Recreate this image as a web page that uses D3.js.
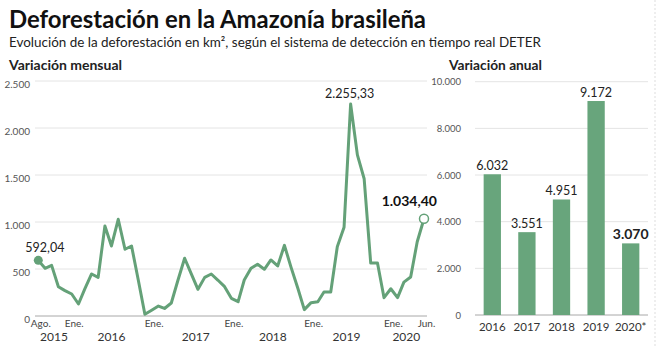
<!DOCTYPE html>
<html>
<head>
<meta charset="utf-8">
<script src="https://cdn.jsdelivr.net/npm/d3@7"></script>
<style>
  body { margin: 0; background: #fff; }
  svg { display: block; font-family: Lato, "Open Sans", sans-serif; }
</style>
</head>
<body>
<svg id="chart" width="660" height="348"></svg>
<script>
// monthly deforestation (km2), Aug 2015 .. Jun 2020
const firstMonth = "2015-08-01";
const monthlyValues = [
  592.04, 507, 539, 312, 270,
  234, 128, 288, 447, 411, 957, 745, 1029, 710, 745, 380, 18,
  62, 106, 80, 138, 378, 614, 450, 284, 411, 447, 380, 312,
  188, 152, 383, 507, 550, 497, 596, 532, 752, 520, 297, 68,
  142, 152, 255, 255, 737, 945, 2255.33, 1714, 1460, 563, 563, 195,
  290, 195, 360, 415, 790, 1034.40
];
const monthTickDates = ["2015-08-01", "2016-01-01", "2017-01-01", "2018-01-01", "2019-01-01", "2020-01-01", "2020-06-01"];
const monthTickLabels = ["Ago.", "Ene.", "Ene.", "Ene.", "Ene.", "Ene.", "Jun."];
const yearLabels = ["2015", "2016", "2017", "2018", "2019", "2020"];
const yearLabelDates = ["2015-10-12", "2016-07-01", "2017-07-22", "2018-07-10", "2019-06-12", "2020-03-12"];
const monthlyTicks = [0, 500, 1000, 1500, 2000, 2500];

// yearly totals
const years = ["2016", "2017", "2018", "2019", "2020*"];
const annualValues = [6032, 3551, 4951, 9172, 3070];
const annualTicks = [0, 2000, 4000, 6000, 8000, 10000];

const green = "#68a57c";
const lineGreen = "#64a178";
const grid = "#e4e4e4";

const es = d3.formatLocale({decimal: ",", thousands: ".", grouping: [3], currency: ["", ""]});
const fmtInt = es.format(",d");
const fmt2 = es.format(",.2f");

const svg = d3.select("#chart");

// headings
function fitText(sel, w) {
  sel.attr("textLength", w).attr("lengthAdjust", "spacingAndGlyphs");
}
svg.append("text").attr("x", 9).attr("y", 28)
  .attr("font-size", 24).attr("font-weight", 700).attr("fill", "#111")
  .text("Deforestación en la Amazonía brasileña").call(fitText, 417);
svg.append("text").attr("x", 9).attr("y", 47)
  .attr("font-size", 14).attr("fill", "#222")
  .text("Evolución de la deforestación en km², según el sistema de detección en tiempo real DETER").call(fitText, 532);
svg.append("text").attr("x", 9).attr("y", 70)
  .attr("font-size", 14).attr("font-weight", 700).attr("fill", "#222")
  .text("Variación mensual").call(fitText, 113);
svg.append("text").attr("x", 449).attr("y", 70)
  .attr("font-size", 14).attr("font-weight", 700).attr("fill", "#222")
  .text("Variación anual").call(fitText, 93);

// ---- monthly line chart ----
const dates = monthlyValues.map((v, i) => d3.timeMonth.offset(new Date(firstMonth + "T00:00"), i));
const data = monthlyValues.map((v, i) => ({date: dates[i], value: v}));

const x = d3.scaleTime()
  .domain([dates[0], dates[dates.length - 1]])
  .range([38.3, 424]);
const y = d3.scaleLinear().domain([0, 2500]).range([316, 81]);

const left = svg.append("g");
left.selectAll(".grid").data(monthlyTicks).enter().append("line")
  .attr("x1", 35).attr("x2", 427)
  .attr("y1", d => y(d)).attr("y2", d => y(d))
  .attr("stroke", d => d === 0 ? "#a8a8a8" : grid).attr("stroke-width", 1);

left.selectAll(".ylab").data(monthlyTicks).enter().append("text")
  .attr("x", 30).attr("y", d => y(d) + 6.5)
  .attr("text-anchor", "end").attr("font-size", 10).attr("fill", "#555")
  .text(d => fmtInt(d));

const xAxis = d3.axisBottom(x)
  .tickValues(monthTickDates.map(d => new Date(d + "T00:00")))
  .tickFormat((d, i) => monthTickLabels[i])
  .tickSize(0).tickPadding(0);
const xg = left.append("g").attr("transform", "translate(2,317)").call(xAxis);
xg.select(".domain").remove();
xg.selectAll("text").attr("font-size", 10).attr("fill", "#444").attr("dy", 10)
  .attr("font-family", "Lato, sans-serif");

left.selectAll(".year").data(yearLabels).enter().append("text")
  .attr("x", (d, i) => x(new Date(yearLabelDates[i] + "T00:00")))
  .attr("y", 341)
  .attr("text-anchor", "middle").attr("font-size", 12).attr("fill", "#333")
  .text(d => d);

const line = d3.line().x(d => x(d.date)).y(d => y(d.value));
left.append("path").datum(data)
  .attr("d", line)
  .attr("fill", "none").attr("stroke", lineGreen)
  .attr("stroke-width", 3).attr("stroke-linejoin", "round");

const first = data[0], last = data[data.length - 1];
const peak = data.reduce((a, b) => b.value > a.value ? b : a);
left.append("circle").attr("cx", x(first.date)).attr("cy", y(first.value))
  .attr("r", 4.5).attr("fill", lineGreen);
left.append("circle").attr("cx", x(last.date)).attr("cy", y(last.value))
  .attr("r", 4.5).attr("fill", "#fff").attr("stroke", lineGreen).attr("stroke-width", 1.5);

left.append("text").attr("x", x(first.date) - 13).attr("y", y(first.value) - 8)
  .attr("font-size", 12.5).attr("fill", "#222").text(fmt2(first.value));
left.append("text").attr("x", x(peak.date) - 1).attr("y", y(peak.value) - 6)
  .attr("text-anchor", "middle").attr("font-size", 12.5).attr("fill", "#222").text(fmt2(peak.value));
left.append("text").attr("x", x(last.date) + 13).attr("y", y(last.value) - 13)
  .attr("text-anchor", "end").attr("font-size", 14).attr("font-weight", 700).attr("fill", "#111")
  .text(fmt2(last.value));

// ---- annual bar chart ----
const xb = d3.scaleBand().domain(years).range([475, 648]).paddingInner(0.5).paddingOuter(0.25);
const yb = d3.scaleLinear().domain([0, 10000]).range([315, 81.7]);

const right = svg.append("g");
right.selectAll(".grid").data(annualTicks).enter().append("line")
  .attr("x1", 475).attr("x2", 648)
  .attr("y1", d => yb(d)).attr("y2", d => yb(d))
  .attr("stroke", d => d === 0 ? "#a8a8a8" : grid);

right.selectAll(".ylab").data(annualTicks).enter().append("text")
  .attr("x", 461).attr("y", d => yb(d) + 3.5)
  .attr("text-anchor", "end").attr("font-size", 9.5).attr("fill", "#555")
  .text(d => fmtInt(d));

right.selectAll(".bar").data(annualValues).enter().append("rect")
  .attr("x", (d, i) => xb(years[i]))
  .attr("width", xb.bandwidth())
  .attr("y", d => yb(d))
  .attr("height", d => yb(0) - yb(d))
  .attr("fill", green);

right.selectAll(".blab").data(annualValues).enter().append("text")
  .attr("x", (d, i) => xb(years[i]) + xb.bandwidth() / 2)
  .attr("y", d => yb(d) - 4)
  .attr("text-anchor", "middle")
  .attr("font-size", (d, i) => i === years.length - 1 ? 14 : 12.5)
  .attr("font-weight", (d, i) => i === years.length - 1 ? 700 : 400)
  .attr("fill", "#222")
  .text(d => fmtInt(d));

right.selectAll(".xlab").data(years).enter().append("text")
  .attr("x", d => xb(d) + xb.bandwidth() / 2)
  .attr("y", 331)
  .attr("text-anchor", "middle").attr("font-size", 11.5).attr("fill", "#333")
  .text(d => d);

// frame edge on the right
svg.append("line").attr("x1", 655).attr("x2", 655).attr("y1", 0).attr("y2", 348)
  .attr("stroke", "#ddd").attr("stroke-dasharray", "2,2");
</script>
</body>
</html>
